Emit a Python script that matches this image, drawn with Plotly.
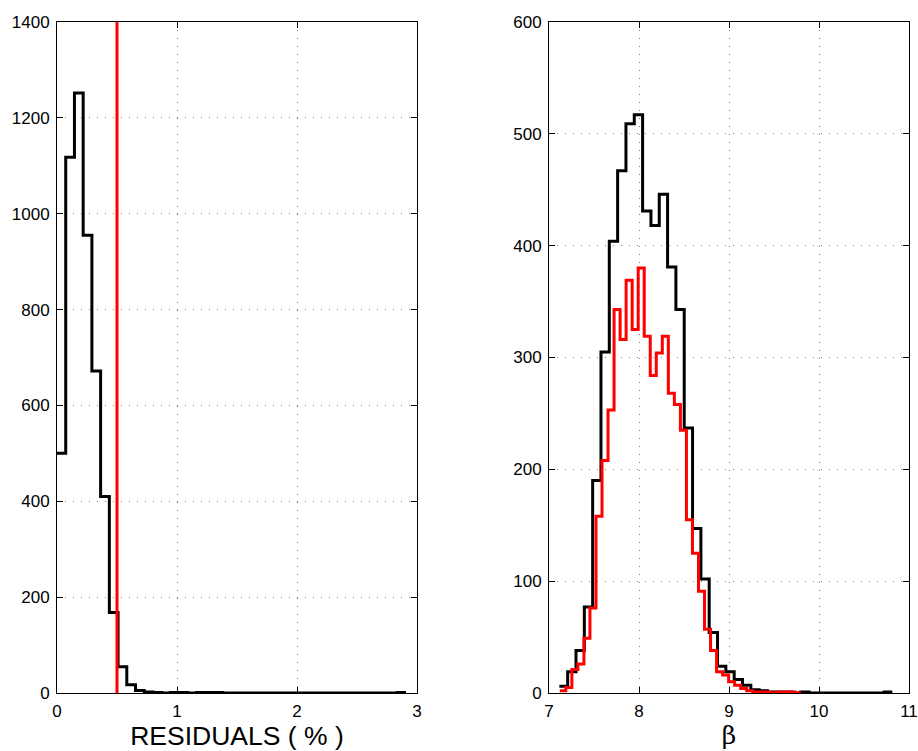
import numpy as np
import plotly.graph_objects as go

# ---------------- data ----------------
# Left: residuals histogram (40 bins)
res_start = 0.0
res_width = 0.0727
res_counts = [500, 1118, 1252, 955, 672, 410, 168, 55, 17, 5,
              2, 1, 0, 1, 1, 0, 1, 1, 1, 0,
              0, 0, 0, 0, 0, 0, 0, 0, 0, 0,
              0, 0, 0, 0, 0, 0, 0, 0, 0, 1]
threshold = 0.5

# Right: beta histograms (40 bins each)
beta_all_start = 7.115
beta_all_width = 0.0925
beta_all_counts = [6, 19, 38, 77, 190, 305, 404, 467, 509, 517,
                   431, 418, 446, 381, 343, 237, 147, 102, 54, 24,
                   19, 12, 7, 3, 2, 1, 1, 1, 0, 1,
                   0, 0, 0, 0, 0, 0, 0, 0, 0, 1]

beta_sel_start = 7.12
beta_sel_width = 0.067
beta_sel_counts = [2, 5, 21, 26, 49, 76, 158, 208, 253, 343,
                   316, 369, 325, 380, 319, 284, 304, 319, 268, 258,
                   235, 155, 125, 91, 57, 38, 19, 16, 10, 7,
                   4, 2, 1, 1, 1, 0, 1, 1, 1, 0]


def stairs(start, width, counts):
    edges = start + width * np.arange(len(counts) + 1)
    ys = list(counts) + [counts[-1]]
    return edges, ys


fig = go.Figure()

ex, ey = stairs(res_start, res_width, res_counts)
fig.add_trace(go.Scatter(x=ex, y=ey, mode="lines", line=dict(color="black", width=3, shape="hv"),
                         xaxis="x", yaxis="y", showlegend=False, hoverinfo="skip"))
fig.add_trace(go.Scatter(x=[threshold, threshold], y=[0, 1400], mode="lines",
                         line=dict(color="#ff0000", width=3), xaxis="x", yaxis="y",
                         showlegend=False, hoverinfo="skip"))

bx, by = stairs(beta_all_start, beta_all_width, beta_all_counts)
fig.add_trace(go.Scatter(x=bx, y=by, mode="lines", line=dict(color="black", width=3, shape="hv"),
                         xaxis="x2", yaxis="y2", showlegend=False, hoverinfo="skip"))
rx, ry = stairs(beta_sel_start, beta_sel_width, beta_sel_counts)
fig.add_trace(go.Scatter(x=rx, y=ry, mode="lines", line=dict(color="#ff0000", width=3, shape="hv"),
                         xaxis="x2", yaxis="y2", showlegend=False, hoverinfo="skip"))

FONT = "Liberation Sans, Arial, sans-serif"
W, H = 918, 751

def ax(**kw):
    d = dict(showline=True, linecolor="black", linewidth=1, mirror="ticks",
             ticks="inside", ticklen=6, tickcolor="black", tickwidth=1,
             showgrid=True, gridcolor="#7f7f7f", gridwidth=1, griddash="1px,7px",
             zeroline=False, tickfont=dict(family=FONT, size=17, color="black"),
             fixedrange=True, automargin=False, ticklabelstandoff=3,
             ticklabeloverflow="allow")
    d.update(kw)
    return d

def fx(px):
    return px / W

def fy(py):
    return 1 - py / H

fig.update_layout(
    width=W, height=H,
    margin=dict(l=0, r=0, t=0, b=0, autoexpand=False),
    paper_bgcolor="white", plot_bgcolor="white",
    font=dict(family=FONT, color="black"),
    xaxis=ax(domain=[fx(57), fx(417)], range=[0, 3], dtick=1, tick0=0,
             title=dict(text="RESIDUALS ( % )", font=dict(family=FONT, size=26.5), standoff=8),
             anchor="y"),
    yaxis=ax(domain=[fy(693), fy(22)], range=[0, 1400], dtick=200, tick0=0, anchor="x"),
    xaxis2=ax(domain=[fx(549), fx(909)], range=[7, 11], dtick=1, tick0=7,
              title=dict(text="β", font=dict(family="DejaVu Serif, serif", size=25), standoff=1),
              anchor="y2"),
    yaxis2=ax(domain=[fy(693), fy(22)], range=[0, 600], dtick=100, tick0=0, anchor="x2"),
)

fig.write_html("out.html", config={"displayModeBar": False},
               post_script="document.body.style.margin='0';")
